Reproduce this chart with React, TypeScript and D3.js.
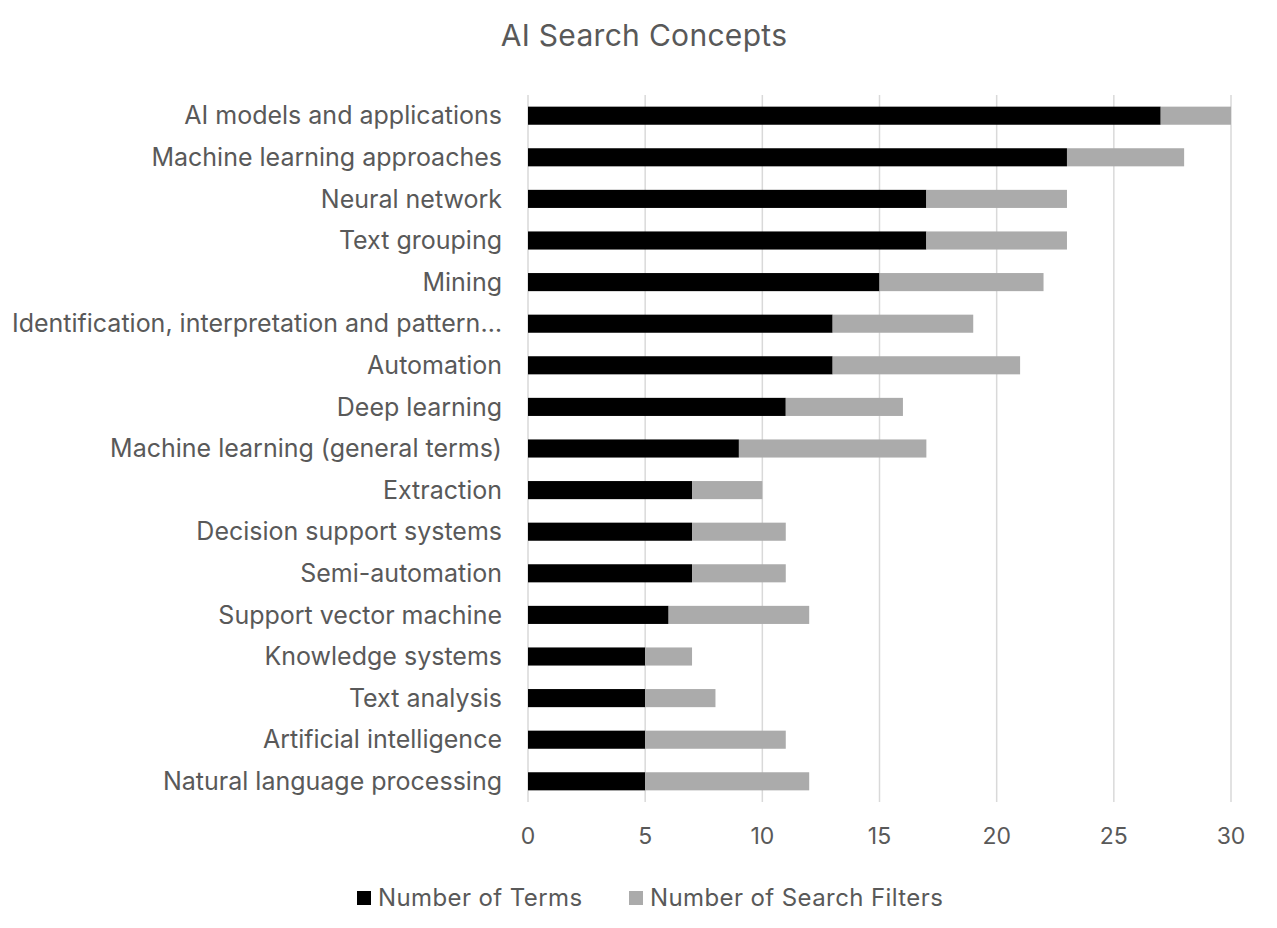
import React from "react";
import * as d3 from "d3";

const categories = [
  "AI models and applications",
  "Machine learning approaches",
  "Neural network",
  "Text grouping",
  "Mining",
  "Identification, interpretation and pattern…",
  "Automation",
  "Deep learning",
  "Machine learning (general terms)",
  "Extraction",
  "Decision support systems",
  "Semi-automation",
  "Support vector machine",
  "Knowledge systems",
  "Text analysis",
  "Artificial intelligence",
  "Natural language processing",
];
const numberOfTerms = [27, 23, 17, 17, 15, 13, 13, 11, 9, 7, 7, 7, 6, 5, 5, 5, 5];
const numberOfSearchFilters = [3, 5, 6, 6, 7, 6, 8, 5, 8, 3, 4, 4, 6, 2, 3, 6, 7];
const xTicks = [0, 5, 10, 15, 20, 25, 30];
const seriesNames = ["Number of Terms", "Number of Search Filters"];
const seriesColors = ["#000000", "#ababab"];
const title = "AI Search Concepts";

const W = 1277;
const H = 928;
const left = 528;
const right = 1231;
const top = 95;
const bottom = 802;

export default function App() {
  const x = d3.scaleLinear().domain([0, 30]).range([left, right]);
  const y = d3.scaleBand<string>().domain(categories).range([top, bottom]).paddingInner(0.565).paddingOuter(0.28);
  const data = categories.map((c, i) => ({ c, t: numberOfTerms[i], f: numberOfSearchFilters[i] }));
  const stack = d3.stack<any>().keys(["t", "f"])(data);
  const textColor = "#595959";
  const labelFont = "Inter, 'Open Sans', sans-serif";
  return (
    <svg width={W} height={H} style={{ position: "absolute", left: 0, top: 0, background: "#fff" }}>
      <rect width={W} height={H} fill="#fff" />
      <text x={644} y={46} textAnchor="middle" fontFamily={labelFont} fontSize={30} letterSpacing={0.3} fill={textColor}>
        {title}
      </text>
      {xTicks.map((t) => (
        <line key={t} x1={x(t)} x2={x(t)} y1={top} y2={bottom} stroke="#d9d9d9" strokeWidth={1.5} />
      ))}
      {stack.map((s, si) =>
        s.map((d, i) => (
          <rect
            key={si + "-" + i}
            x={x(d[0])}
            width={x(d[1]) - x(d[0])}
            y={y(categories[i])}
            height={y.bandwidth()}
            fill={seriesColors[si]}
          />
        ))
      )}
      {categories.map((c) => (
        <text
          key={c}
          x={502}
          y={(y(c) as number) + y.bandwidth() / 2}
          dy="0.35em"
          textAnchor="end"
          fontFamily={labelFont}
          fontSize={25}
          fill={textColor}
        >
          {c}
        </text>
      ))}
      {xTicks.map((t) => (
        <text key={t} x={x(t)} y={836} dy="0.35em" textAnchor="middle" fontFamily={labelFont} fontSize={23} fill={textColor}>
          {t}
        </text>
      ))}
      <g>
        <rect x={357} y={891} width={14} height={14} fill={seriesColors[0]} />
        <text x={378} y={898} dy="0.35em" fontFamily={labelFont} fontSize={24} letterSpacing={0.4} fill={textColor}>
          {seriesNames[0]}
        </text>
        <rect x={629} y={891} width={14} height={14} fill={seriesColors[1]} />
        <text x={650} y={898} dy="0.35em" fontFamily={labelFont} fontSize={24} letterSpacing={0.4} fill={textColor}>
          {seriesNames[1]}
        </text>
      </g>
    </svg>
  );
}
